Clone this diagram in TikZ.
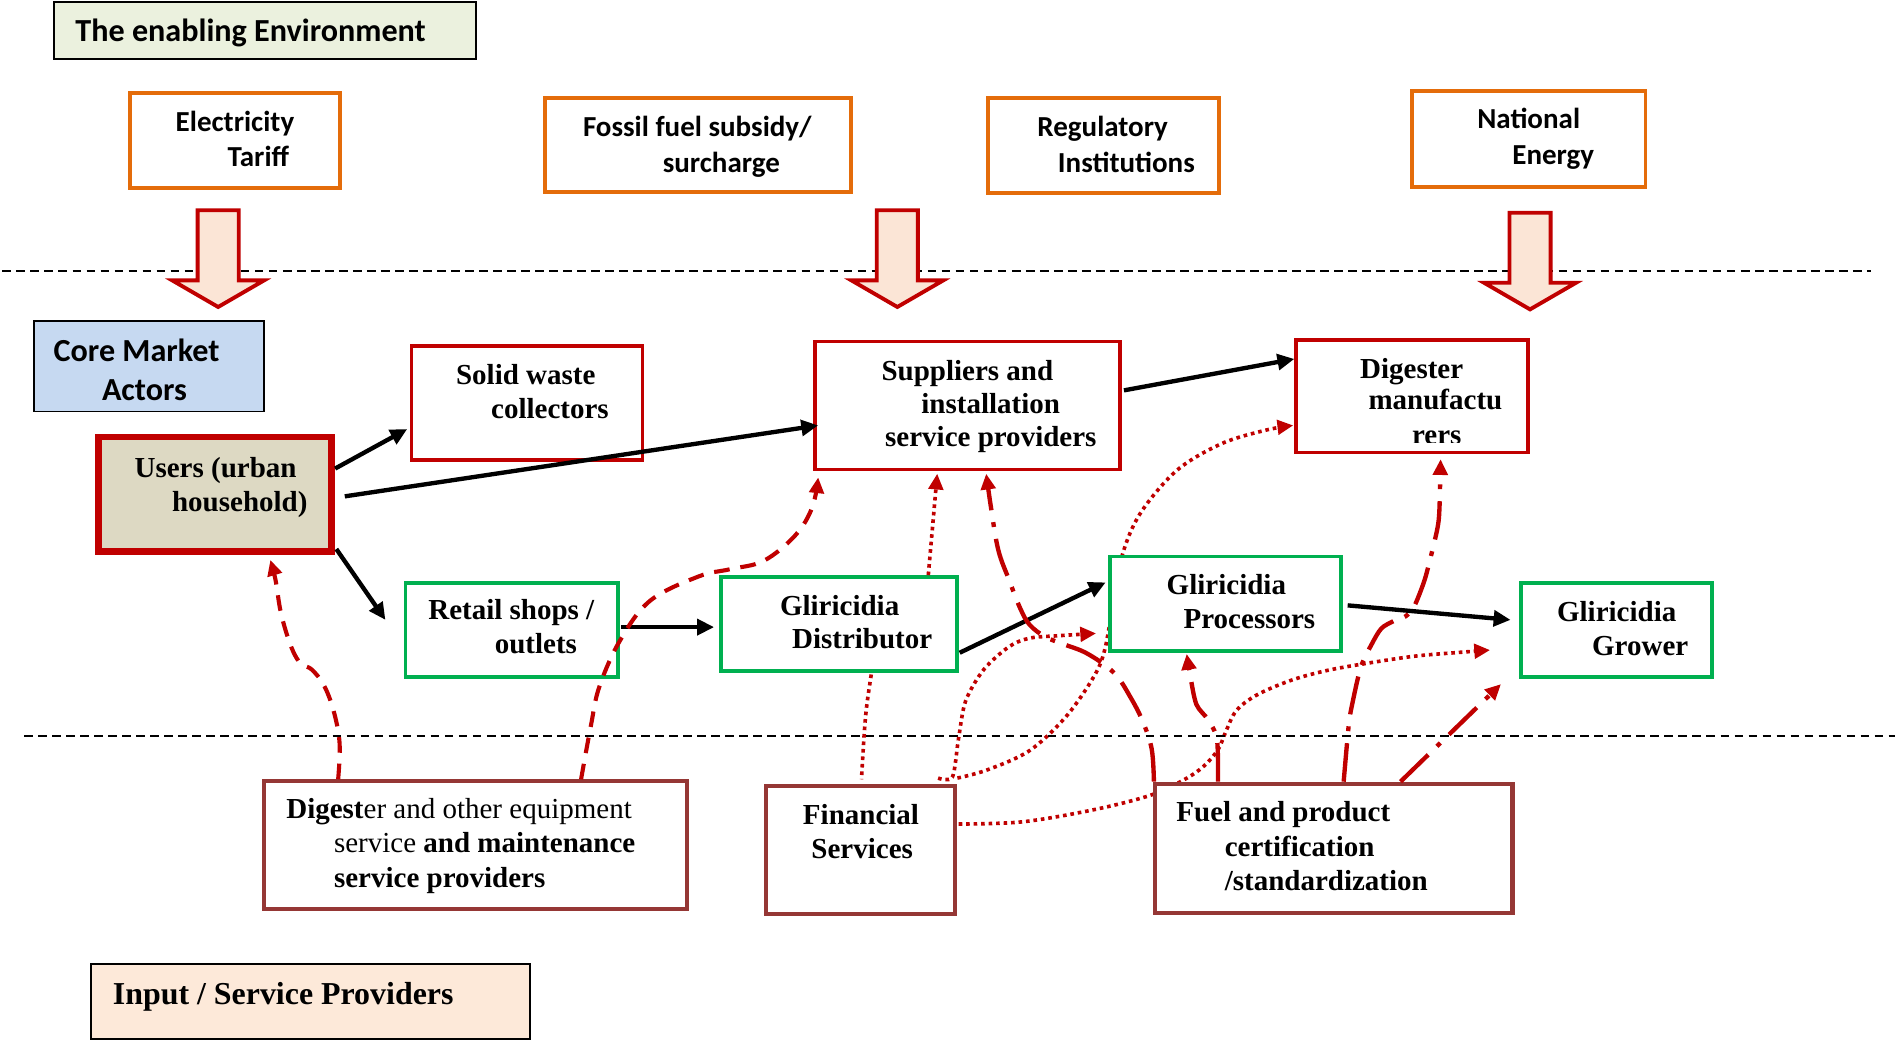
\documentclass[tikz,border=0pt]{standalone}
\usepackage{fontspec}
\setmainfont{Liberation Serif}
\newfontfamily\carlito{Carlito}
\usetikzlibrary{arrows.meta,calc,fit}
\pgfdeclarelayer{background}
\pgfsetlayers{background,main}

\definecolor{orng}{HTML}{E46C0A}
\definecolor{dred}{HTML}{C00000}
\definecolor{grn}{HTML}{00B050}
\definecolor{brn}{HTML}{953735}
\definecolor{envfill}{HTML}{EBF1DE}
\definecolor{corefill}{HTML}{C6D9F1}
\definecolor{userfill}{HTML}{DDD9C3}
\definecolor{peach}{HTML}{FDE9D9}
\definecolor{arrfill}{HTML}{FBE5D6}

\begin{document}
\begin{tikzpicture}[x=0.5pt,y=-0.5pt,
  boxbase/.style={rectangle, inner sep=0pt, fill=white},
  boxorange/.style={boxbase, draw=orng, line width=1.6pt},
  boxred/.style={boxbase, draw=dred, line width=1.5pt},
  boxgreen/.style={boxbase, draw=grn, line width=1.6pt},
  boxbrown/.style={boxbase, draw=brn, line width=1.7pt},
  boxlabel/.style={boxbase, draw=black, line width=0.8pt},
  sertxt/.style={inner sep=0pt, anchor=base west, font=\fontsize{12}{14}\selectfont\bfseries},
  santxt/.style={inner sep=0pt, anchor=base west, font=\carlito\fontsize{12}{14}\selectfont\bfseries},
  bigsantxt/.style={inner sep=0pt, anchor=base west, font=\carlito\fontsize{13.3}{15}\selectfont\bfseries},
  sepline/.style={draw=black, line width=0.65pt, dash pattern=on 3.6pt off 2.2pt},
  blockarrow/.style={draw=dred, line width=1.6pt, fill=arrfill, line join=miter},
  blkarrow/.style={draw=black, line width=1.8pt, -{Triangle[length=7pt,width=6.5pt]}},
  redtip/.style={-{Triangle[length=6.5pt,width=6pt]}},
  reddash/.style={draw=dred, line width=1.7pt, dash pattern=on 6.5pt off 4.5pt},
  reddot/.style={draw=dred, line width=1.5pt, dash pattern=on 1.5pt off 1.6pt},
  reddashdot/.style={draw=dred, line width=1.8pt, dash pattern=on 16pt off 5pt on 2pt off 5pt},
]
\useasboundingbox (0,0) rectangle (1568,862);
\begin{pgfonlayer}{background}
  \fill[white] (0,0) rectangle (1568,862);
\end{pgfonlayer}

% band separators
\draw[sepline] (2,224) -- (1548,224);
\draw[sepline] (20,609) -- (1568,609);

% ---------- enabling environment ----------
\node[boxlabel, fill=envfill, fit={(44.5,1.5) (393.5,48.5)}] (env) {};
\node[bigsantxt] (env-t) at (62,34.5) {The enabling Environment};

\node[boxorange, fit={(107.5,76.8) (281.5,155.6)}] (elec) {};
\node[santxt] (elec-t1) at (145,109) {Electricity};
\node[santxt] (elec-t2) at (188,138) {Tariff};

\node[boxorange, fit={(451,81) (704,159)}] (fossil) {};
\node[santxt] (fossil-t1) at (482,113) {Fossil fuel subsidy/};
\node[santxt] (fossil-t2) at (548,143) {surcharge};

\node[boxorange, fit={(817.5,81) (1008.5,159.5)}] (reg) {};
\node[santxt] (reg-t1) at (858,113) {Regulatory};
\node[santxt] (reg-t2) at (875,143) {Institutions};

\node[boxorange, fit={(1168.5,75) (1361.5,154.5)}] (natl) {};
\node[santxt] (natl-t1) at (1222,106) {National};
\node[santxt] (natl-t2) at (1251,136.5) {Energy};

% block arrows into the core market
\draw[blockarrow] (180.5-17,174) -- (180.5+17,174) -- (180.5+17,232) -- (180.5+38,232)
  -- (180.5,254) -- (180.5-38,232) -- (180.5-17,232) -- cycle;
\draw[blockarrow] (742.5-17,174) -- (742.5+17,174) -- (742.5+17,232) -- (742.5+38,232)
  -- (742.5,254) -- (742.5-38,232) -- (742.5-17,232) -- cycle;
\draw[blockarrow] (1266-17,176) -- (1266+17,176) -- (1266+17,234) -- (1266+38,234)
  -- (1266,256) -- (1266-38,234) -- (1266-17,234) -- cycle;

% ---------- core market ----------
\node[boxlabel, fill=corefill, fit={(28.5,265.5) (218.5,340.5)}] (core) {};
\node[bigsantxt] (core-t1) at (44,299) {Core Market};
\node[bigsantxt] (core-t2) at (84,331) {Actors};

\node[boxbase, draw=dred, line width=2.8pt, fill=userfill, fit={(81.5,361.5) (274.5,456.5)}] (users) {};
\node[sertxt] (users-t1) at (111,395.5) {Users (urban};
\node[sertxt] (users-t2) at (142,423.5) {household)};

\node[boxred, fit={(340.5,286.5) (531.5,380.5)}] (solid) {};
\node[sertxt] (solid-t1) at (377,318.5) {Solid waste};
\node[sertxt] (solid-t2) at (406,346) {collectors};

\node[boxred, fit={(674.5,282.5) (926.5,388.5)}] (supp) {};
\node[sertxt] (supp-t1) at (729,314.5) {Suppliers and};
\node[sertxt] (supp-t2) at (762,342) {installation};
\node[sertxt] (supp-t3) at (732,369.5) {service providers};

\node[boxred, fit={(1072.5,281.5) (1264.5,374.5)}] (dman) {};
\node[sertxt] (dman-t1) at (1125,313) {Digester};
\node[sertxt] (dman-t2) at (1132,339) {manufactu};
\begin{scope}
  \clip (1072,281) rectangle (1265,366);
  \node[sertxt] (dman-t3) at (1168,368) {rers};
\end{scope}

\node[boxgreen, fit={(335.5,482.5) (511.5,560.5)}] (retail) {};
\node[sertxt] (retail-t1) at (354,513) {Retail shops /};
\node[sertxt] (retail-t2) at (409,541) {outlets};

\node[boxgreen, fit={(596.5,477.5) (791.5,555.5)}] (dist) {};
\node[sertxt] (dist-t1) at (645,509) {Gliricidia};
\node[sertxt] (dist-t2) at (655,537) {Distributor};

\node[boxgreen, fit={(918.5,460.5) (1109.5,538.5)}] (proc) {};
\node[sertxt] (proc-t1) at (965,492) {Gliricidia};
\node[sertxt] (proc-t2) at (979,520) {Processors};

\node[boxgreen, fit={(1258.5,482.5) (1416.5,560.5)}] (grower) {};
\node[sertxt] (grower-t1) at (1288,514.5) {Gliricidia};
\node[sertxt] (grower-t2) at (1317,542) {Grower};

% ---------- input / service providers ----------
\node[boxbrown, fit={(218.5,646.5) (568.5,752.5)}] (deq) {};
\node[sertxt] (deq-t1) at (236.5,677) {Digest\textmd{er and other equipment}};
\node[sertxt] (deq-t2) at (276,705.5) {\textmd{service} and maintenance};
\node[sertxt] (deq-t3) at (276,734) {service providers};

\node[boxbrown, fit={(633.5,650.5) (790.5,756.5)}] (fin) {};
\node[sertxt] (fin-t1) at (664,682) {Financial};
\node[sertxt] (fin-t2) at (671,710) {Services};

\node[boxbrown, fit={(955.5,648.5) (1251.5,755.5)}] (fuel) {};
\node[sertxt] (fuel-t1) at (973,680) {Fuel and product};
\node[sertxt] (fuel-t2) at (1013,709) {certification};
\node[sertxt] (fuel-t3) at (1013,736.5) {/standardization};

\node[boxlabel, fill=peach, fit={(75.5,797.5) (438.5,860)}] (input) {};
\node[sertxt, font=\fontsize{13.2}{15}\selectfont\bfseries] (input-t) at (93,831.5) {Input / Service Providers};

% ---------- market chain (black) ----------
\draw[blkarrow] ($(users.north east)+(0,29)$) -- ($(solid.south west)+(-2,-27)$);
\draw[blkarrow] ($(users.north east)+(8,52)$) -- ($(supp.south west)+(4,-38)$);
\draw[blkarrow] ($(users.south east)+(1,-5)$) -- ($(retail.north west)+(-15,32)$);
\draw[blkarrow] ($(retail.north east)+(1,38)$) -- ($(dist.north west)+(-4,43)$);
\draw[blkarrow] ($(dist.south east)+(1,-17)$) -- ($(proc.north west)+(-2,23)$);
\draw[blkarrow] ($(supp.north east)+(2,42)$) -- ($(dman.north west)+(0,17)$);
\draw[blkarrow] ($(proc.north east)+(4,42)$) -- ($(grower.north west)+(-7,32)$);

% ---------- service links (red) ----------
\coordinate (a0) at ($(deq.north west)+(63,0)$);
\coordinate (a1) at ($(users.south west)+(145,4)$);
\draw[reddash, redtip] plot[smooth, tension=0.6] coordinates {(a0) (281,615) (276,588) (268,567)
  (258,554) (250,550) (244,542) (238,527) (232,505) (228,480) (a1)};

\coordinate (b0) at ($(deq.north west)+(264,0)$);
\coordinate (b1) at ($(supp.south west)+(4,5)$);
\draw[reddash, redtip] plot[smooth, tension=0.6] coordinates {(b0) (489,600) (496,568) (513,530)
  (538,497) (578,477) (604,471) (632,464) (658,443) (672,420) (b1)};

\draw[reddot, redtip] ($(dist.north east)+(-25,0)$) -- ($(supp.south)+(-25,2)$);

\coordinate (d0) at ($(fuel.north west)+(1,0)$);
\coordinate (d1) at ($(supp.south west)+(143,2)$);
\draw[reddashdot, redtip] plot[smooth, tension=0.6] coordinates {(d0) (953,620) (946,598) (936,578)
  (922,557) (900,541) (880,533) (865,527) (852,517) (844,503) (835,480) (826,455) (820,420) (d1)};

\coordinate (e0) at ($(fin.north east)+(-16,-5)$);
\coordinate (e1) at ($(proc.south west)+(-10,-16)$);
\draw[reddot, redtip] plot[smooth, tension=0.5] coordinates {(e0) (788,643) (793,612) (799,580)
  (814,554) (835,535) (852,528) (876,526) (e1)};

\draw[reddot] ($(dist.south west)+(126,1)$) .. controls (716,590) .. ($(fin.north west)+(81,-4)$);

\coordinate (h0) at ($(fuel.north west)+(158,0)$);
\coordinate (h1) at ($(dman.south west)+(121,4)$);
\draw[reddashdot, redtip] plot[smooth, tension=0.5] coordinates {(h0) (1116,600) (1119,582)
  (1126,552) (1135,533) (1143,520) (1153,514) (1163,510) (1170,502) (1177,485) (1181,472)
  (1189,439) (1191,422) (h1)};

\draw[reddashdot, redtip] ($(fuel.north west)+(205,0)$) -- ($(grower.south west)+(-15,4)$);

\coordinate (j0) at ($(fuel.north west)+(54,0)$);
\coordinate (j1) at ($(proc.south west)+(65,1)$);
\draw[reddashdot, redtip] plot[smooth, tension=0.5] coordinates {(j0) (1007,612) (1000,596)
  (990,583) (985,560) (j1)};

\begin{pgfonlayer}{background}
  \coordinate (f0) at ($(fin.north east)+(0,-5)$);
  \coordinate (f1) at ($(dman.north west)+(-1,72)$);
  \draw[reddot, redtip] plot[smooth, tension=0.55] coordinates {(f0) (817,637) (852,621) (882,593)
    (905,560) (914,538) (921,500) (929,458) (944,424) (974,389) (1011,367) (1047,356) (f1)};
  \coordinate (k0) at ($(fin.north east)+(1,33)$);
  \coordinate (k1) at ($(grower.north west)+(-24,57)$);
  \draw[reddot, redtip] plot[smooth, tension=0.55] coordinates {(k0) (846,680) (905,670) (952,658)
    (980,645) (996,634) (1008,620) (1014,606) (1023,588) (1040,575) (1068,563) (1097,555)
    (1130,549) (1170,543) (1205,540) (k1)};
\end{pgfonlayer}
\end{tikzpicture}
\end{document}
